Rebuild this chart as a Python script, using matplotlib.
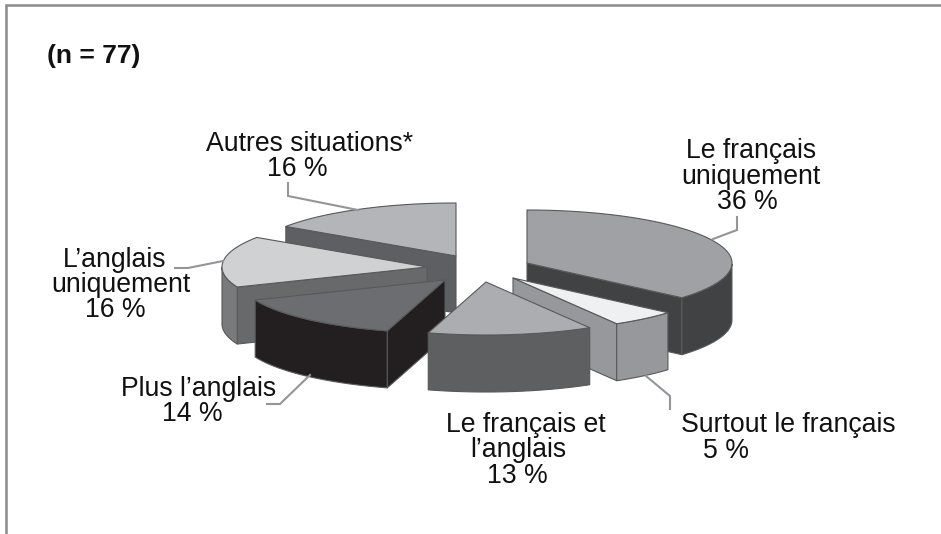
import numpy as np
import matplotlib
matplotlib.use('Agg')
from matplotlib import pyplot as plt
from matplotlib.patches import Polygon

plt.rcParams['font.family'] = ['Liberation Sans', 'DejaVu Sans']

# 28+4+10+11+12+12 = 77 answers, the percentages are these rounded
counts = [28, 4, 10, 11, 12, 12]

# centre of each exploded slice, in pixels of the picture
apex_x = [527, 513, 486, 445, 427, 456]
apex_y = [263, 278, 282, 280, 267, 256]

top_col = ['#a0a1a4', '#eff0f2', '#acadb0', '#6c6d70', '#d0d1d3', '#b4b5b8']
rim_col = ['#414244', '#97989b', '#5e5f61', '#231f20', '#797a7c', '#5e5f62']
cut_col = ['#414244', '#97989b', '#5e5f61', '#231f20', '#68696b', '#5e5f62']

# painted back to front
order = [5, 4, 3, 0, 1, 2]

rx = 205.
ry = 53.
depth = 57.
edge = '#58595b'

# text, x centre, baseline
line_txt = ['Autres situations*', '16 %',
            'Le français', 'uniquement', '36 %',
            'L’anglais', 'uniquement', '16 %',
            'Plus l’anglais', '14 %',
            'Le français et', 'l’anglais', '13 %',
            'Surtout le français', '5 %']
line_x = [310, 297, 751, 751, 747, 115, 121, 115, 199, 192, 526, 518, 517, 788, 726]
line_y = [151, 176, 158, 184, 209, 267, 292, 317, 396, 421, 432, 457, 483, 432, 458]

leader_x = [[288, 288, 358], [175, 188, 223], [267, 280, 310], [737, 737, 713], [670, 670, 646]]
leader_y = [[183, 196, 210], [268, 268, 261], [404, 404, 375], [217, 230, 239], [409, 396, 376]]

fig = plt.figure(figsize=(9.41, 5.34), dpi=100)
ax = fig.add_axes([0, 0, 1, 1])
ax.set_xlim(0, 941)
ax.set_ylim(534, 0)
ax.axis('off')

ax.plot([6.5, 6.5, 941], [534, 5, 5], color='#8a8b8d', lw=1.8, solid_joinstyle='miter')

ends = 90. - 360.*np.cumsum(counts)/np.sum(counts)
starts = np.concatenate([[90.], ends[:-1]])


def rim(i, a):
    a = np.radians(a)
    return apex_x[i] + rx*np.cos(a), apex_y[i] - ry*np.sin(a)


def wall(xs, ys, col):
    pts = list(zip(xs, ys)) + list(zip(xs[::-1], [y + depth for y in ys[::-1]]))
    ax.add_patch(Polygon(pts, fc=col, ec=edge, lw=0.8, joinstyle='round'))


for i in order:
    a0, a1 = starts[i], ends[i]
    # flat faces, only if they look towards the viewer
    if np.sin(np.radians(a0 + 90)) < -1e-6:
        x, y = rim(i, a0)
        wall([apex_x[i], x], [apex_y[i], y], cut_col[i])
    if np.sin(np.radians(a1 - 90)) < -1e-6:
        x, y = rim(i, a1)
        wall([apex_x[i], x], [apex_y[i], y], cut_col[i])
    # curved wall: the part of the rim in the front half
    aa = np.linspace(a0, a1, 80)
    front = np.sin(np.radians(aa)) < 0
    if front.sum() > 1:
        x, y = rim(i, aa[front])
        wall(list(x), list(y), rim_col[i])
    x, y = rim(i, aa)
    pts = [(apex_x[i], apex_y[i])] + list(zip(x, y))
    ax.add_patch(Polygon(pts, fc=top_col[i], ec=edge, lw=0.8, joinstyle='round'))

for xs, ys in zip(leader_x, leader_y):
    ax.plot(xs, ys, color='#939598', lw=1.5, solid_joinstyle='miter')

for t, x, y in zip(line_txt, line_x, line_y):
    ax.text(x, y, t, ha='center', va='baseline', size=19.2, color='#111111')
ax.text(47, 63, '(n = 77)', ha='left', va='baseline', size=19, weight='bold', color='#111111')

fig.savefig('out.png', dpi=100)
